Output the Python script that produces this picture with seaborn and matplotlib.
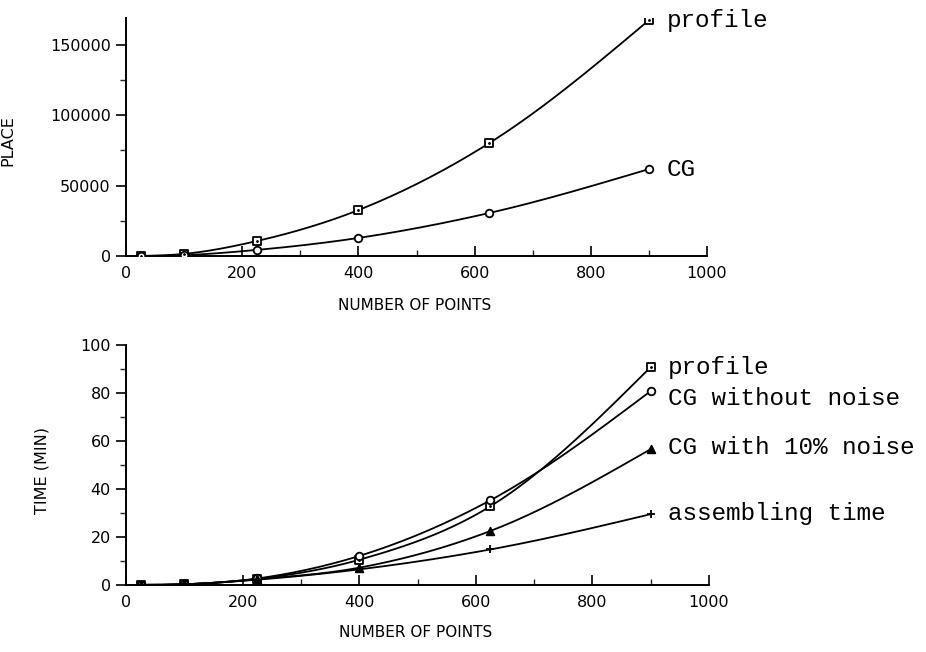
import numpy as np
import pandas as pd
import matplotlib
matplotlib.use("Agg")
import matplotlib.pyplot as plt
import seaborn as sns
from matplotlib.ticker import MultipleLocator

# ---------------- data ----------------
n_points = [25, 100, 225, 400, 625, 900]

place_profile = [100, 1500, 10600, 32600, 80100, 167400]
place_cg = [30, 600, 4300, 12800, 30500, 61700]

time_profile = [0.05, 0.3, 2.5, 10.5, 32.8, 90.8]
time_cg_no_noise = [0.05, 0.3, 2.7, 12.1, 35.3, 80.8]
time_cg_noise = [0.05, 0.3, 2.4, 7.2, 22.5, 56.6]
time_assembling = [0.05, 0.3, 2.2, 6.5, 14.8, 29.5]

top_labels = ["profile", "CG"]
bottom_labels = ["profile", "CG without noise", "CG with 10% noise", "assembling time"]

# ---------------- helpers ----------------
def smooth_curve(x, y, n=40):
    """Hermite cubic curve through the data points (drawing only)."""
    x = np.asarray(x, float)
    y = np.asarray(y, float)
    h = np.diff(x)
    d = np.diff(y) / h
    m = np.empty_like(y)
    m[1:-1] = (d[:-1] * h[1:] + d[1:] * h[:-1]) / (h[:-1] + h[1:])
    m[0] = max(0.0, d[0] - h[0] * (d[1] - d[0]) / (h[0] + h[1]))
    m[-1] = d[-1] + 0.5 * h[-1] * (d[-1] - d[-2]) / (h[-1] + h[-2])
    xs, ys = [], []
    for i in range(len(x) - 1):
        t = np.linspace(0, 1, n, endpoint=(i == len(x) - 2))
        h00 = 2 * t**3 - 3 * t**2 + 1
        h10 = t**3 - 2 * t**2 + t
        h01 = -2 * t**3 + 3 * t**2
        h11 = t**3 - t**2
        xs.append(x[i] + t * h[i])
        ys.append(h00 * y[i] + h10 * h[i] * m[i] + h01 * y[i + 1] + h11 * h[i] * m[i + 1])
    return np.concatenate(xs), np.concatenate(ys)


sns.set_style("ticks")
plt.rcParams["font.family"] = ["DejaVu Sans"]
plt.rcParams["text.color"] = "black"
plt.rcParams["axes.labelcolor"] = "black"

fig = plt.figure(figsize=(9.26, 6.52), dpi=100)
ax1 = fig.add_axes([0.1361, 0.6074, 0.6274, 0.3650])
ax2 = fig.add_axes([0.1361, 0.1028, 0.6296, 0.3681])

mono = ["Liberation Mono", "DejaVu Sans Mono"]
LW = 1.3


def draw_series(ax, y, marker, ms, filled=False, mew=1.3):
    xs, ys = smooth_curve(n_points, y)
    df = pd.DataFrame({"x": xs, "y": ys})
    sns.lineplot(data=df, x="x", y="y", ax=ax, color="black", lw=LW,
                 sort=False, estimator=None)
    dp = pd.DataFrame({"x": n_points, "y": y})
    if marker == "+":
        sns.scatterplot(data=dp, x="x", y="y", ax=ax, marker="+", s=ms,
                        color="black", linewidth=mew, zorder=5)
    else:
        sns.scatterplot(data=dp, x="x", y="y", ax=ax, marker=marker, s=ms,
                        facecolor="black" if filled else "white",
                        edgecolor="black", linewidth=mew, zorder=5)


# ---------------- top panel ----------------
draw_series(ax1, place_profile, "s", 30)
ax1.scatter(n_points, place_profile, marker=".", s=4, color="black", zorder=6)
draw_series(ax1, place_cg, "o", 30)

ax1.set_xlim(0, 1000)
ax1.set_ylim(0, 169000)
ax1.xaxis.set_major_locator(MultipleLocator(200))
ax1.xaxis.set_minor_locator(MultipleLocator(100))
ax1.yaxis.set_major_locator(MultipleLocator(50000))
ax1.yaxis.set_minor_locator(MultipleLocator(25000))
ax1.set_yticks([0, 50000, 100000, 150000])
ax1.set_xlabel("NUMBER OF POINTS", fontsize=11)
ax1.set_ylabel("PLACE", fontsize=11.5)
ax1.xaxis.set_label_coords(0.496, -0.175)
ax1.yaxis.set_label_coords(-0.191, 0.487)

ax1.text(930, place_profile[-1], top_labels[0], family=mono, fontsize=17.5,
         va="center", ha="left", clip_on=False)
ax1.text(930, place_cg[-1], top_labels[1], family=mono, fontsize=17.5,
         va="center", ha="left", clip_on=False)

# ---------------- bottom panel ----------------
draw_series(ax2, time_profile, "s", 30)
ax2.scatter(n_points, time_profile, marker=".", s=4, color="black", zorder=6)
draw_series(ax2, time_cg_no_noise, "o", 30)
draw_series(ax2, time_cg_noise, "^", 30, filled=True)
draw_series(ax2, time_assembling, "+", 40)

ax2.set_xlim(0, 1000)
ax2.set_ylim(0, 100)
ax2.xaxis.set_major_locator(MultipleLocator(200))
ax2.xaxis.set_minor_locator(MultipleLocator(100))
ax2.yaxis.set_major_locator(MultipleLocator(20))
ax2.yaxis.set_minor_locator(MultipleLocator(10))
ax2.set_xlabel("NUMBER OF POINTS", fontsize=11)
ax2.set_ylabel("TIME (MIN)", fontsize=11.5)
ax2.xaxis.set_label_coords(0.496, -0.165)
ax2.yaxis.set_label_coords(-0.131, 0.479)

text_y = [90.8, 77.9, 57.4, 29.9]
for lab, ty in zip(bottom_labels, text_y):
    ax2.text(930, ty, lab, family=mono, fontsize=17.5, va="center", ha="left",
             clip_on=False)

for ax in (ax1, ax2):
    sns.despine(ax=ax)
    for s in ("left", "bottom"):
        ax.spines[s].set_linewidth(1.4)
        ax.spines[s].set_color("black")
    ax.tick_params(axis="x", which="major", direction="in", length=7, width=1.2,
                   labelsize=11.5, pad=7, colors="black")
    ax.tick_params(axis="x", which="minor", direction="in", length=4, width=1.0)
    ax.tick_params(axis="y", which="major", direction="out", length=7, width=1.2,
                   labelsize=11.5, pad=4, colors="black")
    ax.tick_params(axis="y", which="minor", direction="out", length=4, width=1.0)

fig.savefig("out.png", dpi=100, facecolor="white")
